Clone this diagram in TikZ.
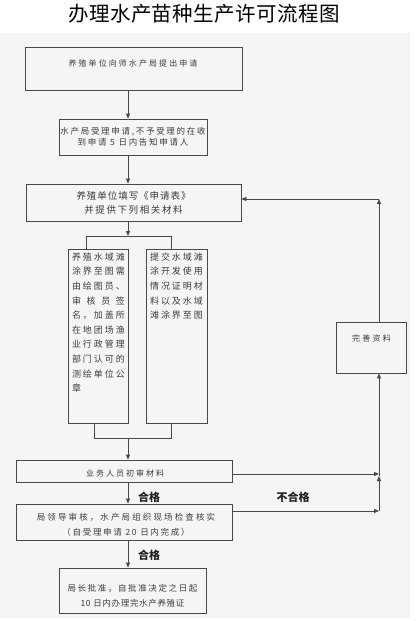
\documentclass[tikz,border=0pt]{standalone}
\usepackage{fontspec}
\setmainfont{Noto Sans CJK SC}
\usetikzlibrary{arrows.meta}
\definecolor{lnc}{HTML}{484848}
\definecolor{txc}{HTML}{3C3C3C}
\definecolor{lbc}{HTML}{222222}
\definecolor{bgc}{HTML}{F5F5F5}
\newcommand{\ls}[1]{\addfontfeatures{LetterSpace=#1}}
\newcommand{\fs}[2]{\fontsize{#1}{#2}\selectfont}
\newcommand{\jl}[1]{\makebox[53pt][s]{#1}}
\begin{document}
\begin{tikzpicture}[x=1pt,y=-1pt,
  box/.style={draw=lnc, line width=0.8pt, rectangle, inner sep=0pt},
  txt/.style={text=txc, inner sep=0pt, align=center},
  lab/.style={text=lbc, inner sep=0pt, font=\fs{11}{13}\bfseries},
  arr/.style={draw=lnc, line width=0.8pt, -{Triangle[length=5pt,width=4pt]}},
  wire/.style={draw=lnc, line width=0.8pt}]
\useasboundingbox (0,0) rectangle (417,621);
\fill[bgc] (0,33) rectangle (410,618);

\node[txt, text=black, font=\fs{20.5}{22}\ls{2}] (title) at (204,14) {办理水产苗种生产许可流程图};

% box 1
\node[box, minimum width=217pt, minimum height=43pt] (b1) at (133.5,68.5) {};
\node[txt, font=\fs{8}{10}\ls{26}] (b1t) at (133,63) {养殖单位向师水产局提出申请};

% box 2
\node[box, txt, minimum width=148pt, minimum height=36pt, font=\fs{8.5}{11}] (b2) at (133,137)
  {{\ls{20}水产局受理申请,不予受理的在收}\\{\ls{20}到申请 5 日内告知申请人}};

% box 3
\node[box, txt, minimum width=215pt, minimum height=37pt, font=\fs{9.5}{14}] (b3) at (133.5,202.5)
  {{\ls{10}养殖单位填写《申请表》}\\{\ls{17}并提供下列相关材料}};

% columns
\node[box, minimum width=60pt, minimum height=174pt] (ca) at (98,336) {};
\node[box, minimum width=61pt, minimum height=174pt] (cb) at (176.5,336) {};
\node[txt, anchor=north, align=left, font=\fs{9}{14.6}] (cat) at (98.5,252.5)
  {\jl{养\hfil 殖\hfil 水\hfil 域\hfil 滩}\\
   \jl{涂\hfil 界\hfil 至\hfil 图\hfil 需}\\
   \jl{由\hfil 绘\hfil 图\hfil 员\hfil 、}\\
   \jl{审\hfil 核\hfil 员\hfil 签}\\
   \jl{名\hfil ，\hfil 加\hfil 盖\hfil 所}\\
   \jl{在\hfil 地\hfil 团\hfil 场\hfil 渔}\\
   \jl{业\hfil 行\hfil 政\hfil 管\hfil 理}\\
   \jl{部\hfil 门\hfil 认\hfil 可\hfil 的}\\
   \jl{测\hfil 绘\hfil 单\hfil 位\hfil 公}\\
   \makebox[53pt][l]{章}};
\node[txt, anchor=north, align=left, font=\fs{9}{14.6}] (cbt) at (176.5,252.5)
  {\jl{提\hfil 交\hfil 水\hfil 域\hfil 滩}\\
   \jl{涂\hfil 开\hfil 发\hfil 使\hfil 用}\\
   \jl{情\hfil 况\hfil 证\hfil 明\hfil 材}\\
   \jl{料\hfil 以\hfil 及\hfil 水\hfil 域}\\
   \jl{滩\hfil 涂\hfil 界\hfil 至\hfil 图}};

% box 4
\node[box, minimum width=216pt, minimum height=22pt] (b4) at (124,471) {};
\node[txt, font=\fs{8}{10}\ls{25}] (b4t) at (125,473) {业务人员初审材料};

% box 5
\node[box, minimum width=216pt, minimum height=36pt] (b5) at (124,522) {};
\node[txt, font=\fs{8.5}{15}] (b5t) at (126,524.5)
  {{\ls{25}局领导审核，水产局组织现场检查核实}\\{\ls{20}（自受理申请 20 日内完成）}};

% box 6
\node[box, minimum width=147pt, minimum height=45pt] (b6) at (132.5,590.5) {};
\node[txt, font=\fs{8.5}{15}] (b6t) at (132.5,595.5)
  {{\ls{19}局长批准，自批准决定之日起}\\{\ls{8}10 日内办理完水产养殖证}};

% side box
\node[box, minimum width=70pt, minimum height=51pt] (bw) at (371,347.5) {};
\node[txt, font=\fs{8}{10}\ls{29}] (bwt) at (371.5,338) {完善资料};

% labels
\node[lab] (ok1) at (149,497) {合格};
\node[lab] (ok2) at (149,555) {合格};
\node[lab] (ng) at (293,497) {不合格};

% main column connectors
\coordinate (ax) at (128,0);
\draw[arr] (b1.south -| ax) -- (b2.north -| ax);
\draw[arr] (b2.south -| ax) -- (b3.north -| ax);
\coordinate (f1) at (128,236);
\coordinate (f1l) at (86,236);
\coordinate (f1r) at (171,236);
\draw[arr] (b3.south -| ax) -- (f1);
\draw[wire] (f1l |- ca.north) -- (f1l) -- (f1r) -- (f1r |- cb.north);
\coordinate (g1) at (128,438);
\coordinate (g1l) at (94,438);
\coordinate (g1r) at (171,438);
\draw[wire] (g1l |- ca.south) -- (g1l) -- (g1r) -- (g1r |- cb.south);
\draw[arr] (g1) -- (b4.north -| ax);
\draw[arr] (b4.south -| ax) -- (b5.north -| ax);
\draw[arr] (b5.south -| ax) -- (b6.north -| ax);

% feedback loop
\coordinate (rx) at (379,0);
\coordinate (y4) at (0,474);
\coordinate (j1) at (379,476);
\coordinate (j2) at (379,511);
\coordinate (ct) at (379,199);
\draw[arr] (b4.east |- y4) -- (rx |- y4);
\draw[arr] (b5.east |- j2) -- (j2);
\draw[arr] (j2) -- (j1);
\draw[arr] (j1) -- (bw.south -| rx);
\draw[arr] (bw.north -| rx) -- (ct);
\draw[arr] (ct) -- (ct -| b3.east);
\end{tikzpicture}
\end{document}
